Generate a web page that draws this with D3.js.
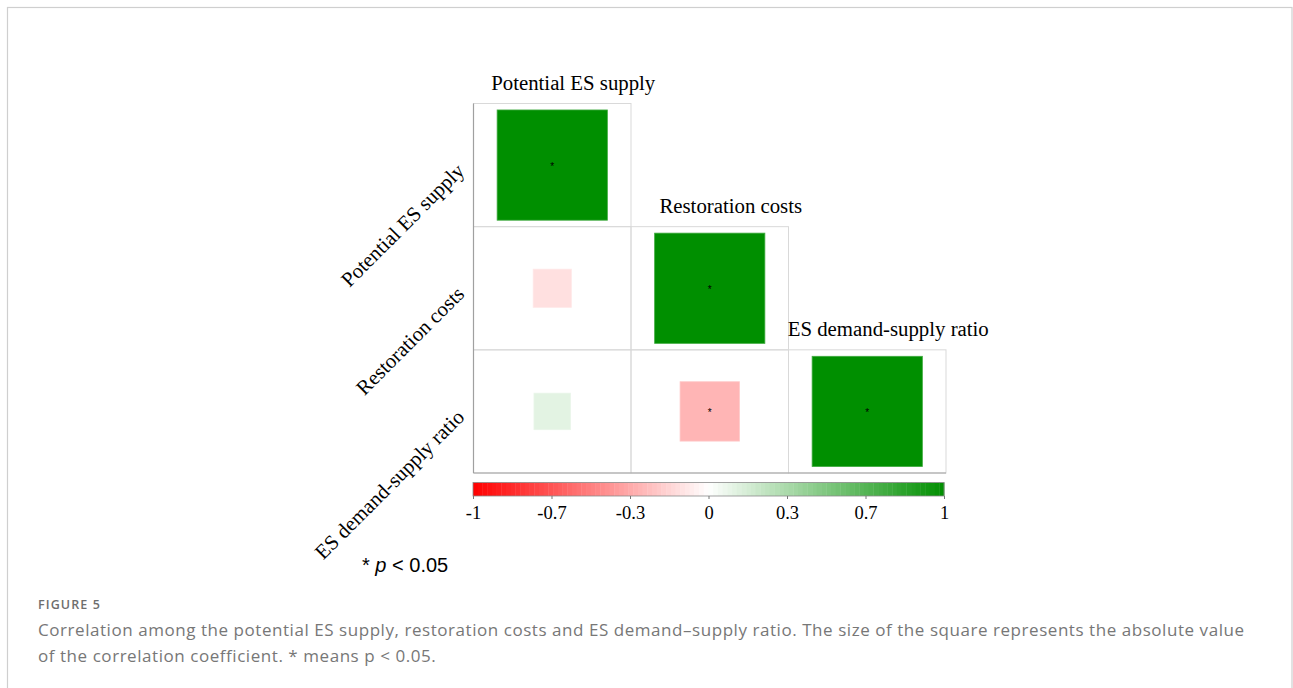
<!DOCTYPE html>
<html>
<head>
<meta charset="utf-8">
<script src="https://cdn.jsdelivr.net/npm/d3@7"></script>
<style>
  html, body { margin: 0; padding: 0; background: #fff; }
  svg { display: block; }
</style>
</head>
<body>
<svg id="fig" width="1293" height="688"></svg>
<script>
// Variables of the correlation matrix (rows and columns share the same order)
const variables = ["Potential ES supply", "Restoration costs", "ES demand-supply ratio"];

// Lower-triangle correlation coefficients, one array per row
const rowPotentialSupply = [1];
const rowRestorationCosts = [-0.12, 1];
const rowDemandSupplyRatio = [0.11, -0.29, 1];

// Significance (p < 0.05) flags, same layout
const sigPotentialSupply = [true];
const sigRestorationCosts = [false, true];
const sigDemandSupplyRatio = [false, true, true];

// Colour legend ticks
const legendTickValues = [-1, -2 / 3, -1 / 3, 0, 1 / 3, 2 / 3, 1];
const legendTickLabels = ["-1", "-0.7", "-0.3", "0", "0.3", "0.7", "1"];

const captionHead = "FIGURE 5";
const captionLines = [
  "Correlation among the potential ES supply, restoration costs and ES demand\u2013supply ratio. The size of the square represents the absolute value",
  "of the correlation coefficient. * means p < 0.05."
];

const corrRows = [rowPotentialSupply, rowRestorationCosts, rowDemandSupplyRatio];
const sigRows = [sigPotentialSupply, sigRestorationCosts, sigDemandSupplyRatio];
const cells = [];
corrRows.forEach((row, i) => row.forEach((r, j) => {
  cells.push({ row: variables[i], col: variables[j], i, j, r, sig: sigRows[i][j] });
}));

const svg = d3.select("#fig");
const serif = "Liberation Serif, Times New Roman, serif";

// outer figure frame
svg.append("rect")
  .attr("x", 7.5).attr("y", 7.5)
  .attr("width", 1284.5).attr("height", 700)
  .attr("fill", "none").attr("stroke", "#cfcfcf").attr("stroke-width", 1.2);

// matrix geometry
const mLeft = 473.5, mRight = 946, mTop = 103.5, mBottom = 473;
const x = d3.scaleBand().domain(variables).range([mLeft, mRight]);
const y = d3.scaleBand().domain(variables).range([mTop, mBottom]);
const fullSide = y.bandwidth() * 0.895;
const side = d3.scaleSqrt().domain([0, 1]).range([0, fullSide]);
const color = d3.scaleLinear().domain([-1, 0, 1]).range(["#FF0000", "#FFFFFF", "#008F00"]);

const g = svg.append("g");

// cell grid (lower triangle incl. diagonal)
g.selectAll("rect.cell").data(cells).join("rect")
  .attr("class", "cell")
  .attr("x", d => x(d.col)).attr("y", d => y(d.row))
  .attr("width", x.bandwidth()).attr("height", y.bandwidth())
  .attr("fill", "none").attr("stroke", "#d9d9d9").attr("stroke-width", 1);

// darker left and bottom edges
g.append("line").attr("x1", mLeft).attr("x2", mLeft).attr("y1", mTop).attr("y2", mBottom)
  .attr("stroke", "#a0a0a0").attr("stroke-width", 1.2);
g.append("line").attr("x1", mLeft).attr("x2", mRight).attr("y1", mBottom).attr("y2", mBottom)
  .attr("stroke", "#a0a0a0").attr("stroke-width", 1.2);

// squares sized by |r|
g.selectAll("rect.sq").data(cells).join("rect")
  .attr("class", "sq")
  .attr("x", d => x(d.col) + x.bandwidth() / 2 - side(Math.abs(d.r)) / 2)
  .attr("y", d => y(d.row) + y.bandwidth() / 2 - side(Math.abs(d.r)) / 2)
  .attr("width", d => side(Math.abs(d.r)))
  .attr("height", d => side(Math.abs(d.r)))
  .attr("fill", d => color(d.r))
  .attr("stroke", d => d3.interpolateRgb(color(d.r), "#ffffff")(0.25))
  .attr("stroke-width", 0.8);

// significance stars
g.selectAll("text.star").data(cells.filter(d => d.sig)).join("text")
  .attr("class", "star")
  .attr("x", d => x(d.col) + x.bandwidth() / 2)
  .attr("y", d => y(d.row) + y.bandwidth() / 2 + 5)
  .attr("text-anchor", "middle")
  .attr("font-family", "Liberation Sans, Arial, sans-serif")
  .attr("font-size", 10).attr("fill", "#000")
  .text("*");

// diagonal labels above each column's diagonal cell
g.selectAll("text.diag").data(variables).join("text")
  .attr("class", "diag")
  .attr("x", d => x(d) + x.bandwidth() / 2 + 21)
  .attr("y", d => y(d) - 14)
  .attr("text-anchor", "middle")
  .attr("font-family", serif)
  .attr("font-size", 20.8).attr("fill", "#000")
  .text(d => d);

// rotated row labels on the left
g.selectAll("text.rowlab").data(variables).join("text")
  .attr("class", "rowlab")
  .attr("transform", d => `translate(${mLeft - 8},${y(d) + y.bandwidth() / 2 + 7}) rotate(-45)`)
  .attr("text-anchor", "end")
  .attr("font-family", serif)
  .attr("font-size", 20.8).attr("fill", "#000")
  .text(d => d);

// colour legend
const lgLeft = 473, lgRight = 944, lgTop = 482.5, lgH = 13.5;
const lx = d3.scaleLinear().domain([-1, 1]).range([lgLeft, lgRight]);
const nBands = 100;
const bandEdges = d3.range(nBands + 1).map(k => -1 + 2 * k / nBands);
const lg = svg.append("g");
lg.selectAll("rect.band").data(bandEdges.slice(0, -1)).join("rect")
  .attr("class", "band")
  .attr("x", v => lx(v)).attr("y", lgTop)
  .attr("width", (lgRight - lgLeft) / nBands + 0.4).attr("height", lgH)
  .attr("fill", v => color(v + 1 / nBands));
lg.append("rect")
  .attr("x", lgLeft).attr("y", lgTop).attr("width", lgRight - lgLeft).attr("height", lgH)
  .attr("fill", "none").attr("stroke", "#8a8a8a").attr("stroke-width", 0.8);

const lgAxis = d3.axisBottom(lx)
  .tickValues(legendTickValues)
  .tickSize(3)
  .tickFormat((v, i) => legendTickLabels[i]);
const ax = lg.append("g").attr("transform", `translate(0,${lgTop + lgH})`).call(lgAxis);
ax.select(".domain").remove();
ax.selectAll(".tick line").attr("stroke", "#777");
ax.selectAll(".tick text")
  .attr("y", 10)
  .attr("font-family", serif)
  .attr("font-size", 18.5).attr("fill", "#000");

// significance note
const note = svg.append("text")
  .attr("x", 362).attr("y", 571.5)
  .attr("font-family", "Liberation Sans, Arial, sans-serif")
  .attr("font-size", 20).attr("fill", "#000");
note.append("tspan").text("* ");
note.append("tspan").attr("font-style", "italic").text("p");
note.append("tspan").text(" < 0.05");

// caption
svg.append("text")
  .attr("x", 38).attr("y", 609)
  .attr("font-family", "Open Sans, Noto Sans, sans-serif")
  .attr("font-size", 12.5).attr("font-weight", 600)
  .attr("letter-spacing", 1.1)
  .attr("fill", "#6e6e6e")
  .text(captionHead);
svg.selectAll("text.cap").data(captionLines).join("text")
  .attr("class", "cap")
  .attr("x", 38).attr("y", (d, i) => 636 + i * 26)
  .attr("font-family", "Open Sans, Noto Sans, sans-serif")
  .attr("font-size", 17).attr("letter-spacing", 0.55)
  .attr("fill", "#777")
  .text(d => d);
</script>
</body>
</html>
